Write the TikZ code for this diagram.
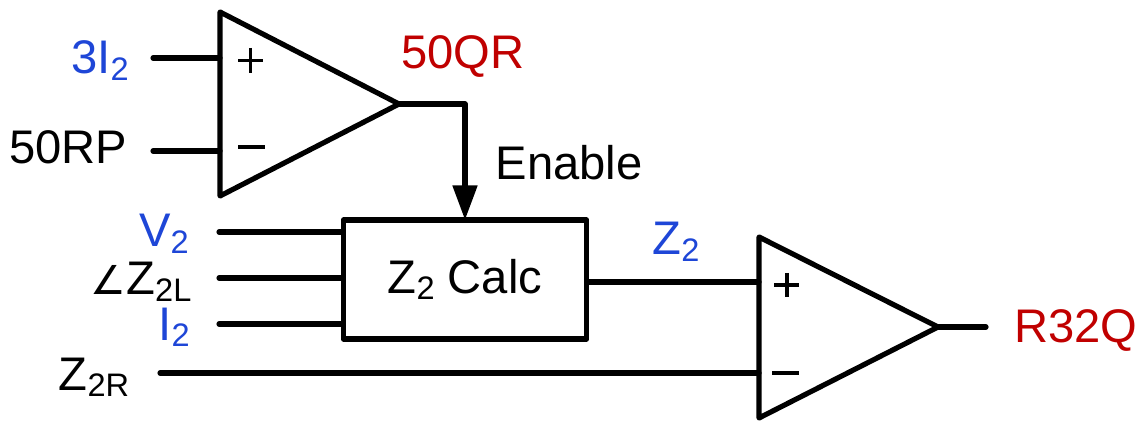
\documentclass[tikz,border=0pt]{standalone}
\usepackage{fontspec}
\setmainfont{Liberation Sans}
\newfontfamily\symfont{DejaVu Sans}
\usetikzlibrary{arrows.meta}
\definecolor{bl}{RGB}{30,70,215}
\definecolor{rd}{RGB}{192,0,0}
\newcommand{\lowtxt}[1]{\raisebox{-5pt}{\fontsize{24.5}{24.5}\selectfont #1}}
\tikzset{x=0.02646cm,y=-0.02646cm,
 wire/.style={line width=3.9pt,line cap=round,line join=round},
 lab/.style={font=\fontsize{35.5}{36}\selectfont,inner sep=0pt,anchor=base},
 plussgn/.style={line width=3pt},
 minussgn/.style={line width=2.5pt}}
\begin{document}
\begin{tikzpicture}
\useasboundingbox (0,0) rectangle (1143,421);
\coordinate (p1) at (220,12);
\coordinate (p2) at (220,196);
\coordinate (p3) at (399,104);
\draw[wire] (p1) -- (p2) -- (p3) -- cycle;
\coordinate (q1) at (759,237);
\coordinate (q2) at (759,418);
\coordinate (q3) at (938,327);
\draw[wire] (q1) -- (q2) -- (q3) -- cycle;
\node[draw,wire,rectangle,minimum width=183.4pt,minimum height=89.6pt,inner sep=0pt,outer sep=0pt,font=\fontsize{35.5}{36}\selectfont] (calc) at (465,279.5) {\raisebox{1.5pt}{Z\lowtxt{2} Calc}};
\node[lab,text=bl] (n3i) at (100,74) {3I\lowtxt{2}};
\node[lab] (n50rp) at (68,163.5) {50RP};
\node[lab,text=rd] (n50qr) at (463,69) {50QR};
\node[lab] (nen) at (569,180) {Enable};
\node[lab,text=bl] (nv) at (164,247) {V\lowtxt{2}};
\node[lab] (nz2l) at (141,295) {{\symfont\fontsize{30}{30}\selectfont ∠}Z\lowtxt{2L}};
\node[lab,text=bl] (ni) at (174,340) {I\lowtxt{2}};
\node[lab] (nzr) at (94,390) {Z\lowtxt{2R}};
\node[lab,text=bl] (nz2) at (676,255) {Z\lowtxt{2}};
\node[lab,text=rd] (nr) at (1076,343) {R32Q};
\coordinate (a1) at (153,58);
\coordinate (a1e) at (220,58);
\coordinate (a2) at (153,151);
\coordinate (a2e) at (220,151);
\draw[wire] (a1) -- (a1e);
\draw[wire] (a2) -- (a2e);
\coordinate (t) at (465,104);
\draw[wire,-{Triangle[length=26pt,width=18pt]}] (p3) -- (t) -- (calc.north -| t);
\foreach \y/\n in {232/v,278/z,324/i}{
 \coordinate (s\n) at (219,\y);
 \draw[wire] (s\n) -- (calc.west |- s\n);
}
\coordinate (z1) at (759,282);
\draw[wire] (calc.east |- z1) -- (z1);
\coordinate (z0) at (160,373);
\coordinate (z0e) at (759,373);
\draw[wire] (z0) -- (z0e);
\coordinate (o) at (986,327);
\draw[wire] (q3) -- (o);
\draw[plussgn] (238,60.5) -- (263,60.5) (250.5,48) -- (250.5,73);
\draw[minussgn] (238,147) -- (265,147);
\draw[plussgn] (774,285) -- (799,285) (786.5,273) -- (786.5,297);
\draw[minussgn] (772,373) -- (799,373);
\end{tikzpicture}
\end{document}
